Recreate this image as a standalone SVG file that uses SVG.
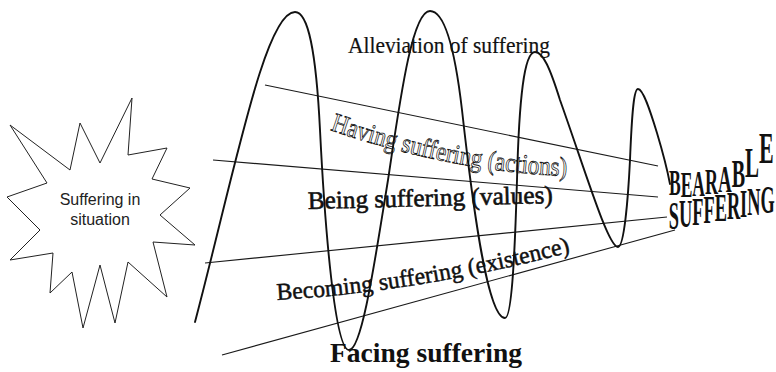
<svg xmlns="http://www.w3.org/2000/svg" width="776" height="372" viewBox="0 0 776 372">
<style>
.ray{stroke:#1a1a1a;stroke-width:1.1;fill:none}
.wave{stroke:#111;stroke-width:1.9;fill:none;stroke-linecap:round;stroke-linejoin:round}
.star{stroke:#222;stroke-width:1;fill:#fff}
.serif{font-family:"Liberation Serif","Times New Roman",serif;fill:#111}
.sans{font-family:"Liberation Sans",Arial,sans-serif;fill:#222}
</style>
<defs>
<path id="havingPath" d="M330,130 Q460,174 574,176"/>
<path id="becomingPath" d="M277,300 Q420,292 575,251"/>
</defs>
<rect width="776" height="372" fill="#fff"/>
<g id="connectors">
<line class="ray" x1="265" y1="85" x2="658" y2="166"/>
<line class="ray" x1="213" y1="160" x2="658" y2="197"/>
<line class="ray" x1="205" y1="263" x2="667" y2="217"/>
<line class="ray" x1="222" y1="355" x2="675" y2="230"/>
<path class="wave" d="M195,322 C235,170 265,12 295,12 C308,12 316,50 320,130 C325,230 335,350 349,350 C362,350 375,260 388,180 C400,100 412,11 430,11 C445,11 455,50 462,110 C472,200 487,318 505,318 C512,318 515,250 517,180 C519,100 524,52 535,52 C543,52 550,68 560,100 C585,170 608,247 618,247 C624,247 628,200 630,160 C632,110 634,89 638,89 C643,89 650,110 657,133 C663,153 667,168 670,184"/>
</g>
<g id="situation">
<polygon class="star" points="132,98 128,155 167,148 152,179 190,188 160,215 195,245 153,242 167,297 128,262 115,323 100,265 83,328 72,272 50,293 53,253 10,260 40,230 7,197 47,183 10,125 70,170 80,123 100,163"/>
<text class="sans" font-size="16" text-anchor="middle"><tspan x="100" y="205">Suffering in</tspan><tspan x="100" y="225">situation</tspan></text>
</g>
<g id="alleviation">
<text class="serif" x="348" y="53" font-size="24" textLength="202" lengthAdjust="spacingAndGlyphs" style="stroke:#111;stroke-width:0.2">Alleviation of suffering</text>
</g>
<g id="having">
<text class="serif" font-size="27" style="fill:none;stroke:#111;stroke-width:0.8"><textPath href="#havingPath" textLength="242" lengthAdjust="spacingAndGlyphs">Having suffering (actions)</textPath></text>
</g>
<g id="being">
<text class="serif" x="308" y="209" font-size="25" textLength="245" lengthAdjust="spacingAndGlyphs" transform="rotate(-1.4 308 209)" style="stroke:#111;stroke-width:0.6">Being suffering (values)</text>
</g>
<g id="becoming">
<text class="serif" font-size="24" style="stroke:#111;stroke-width:0.5"><textPath href="#becomingPath" textLength="298" lengthAdjust="spacingAndGlyphs">Becoming suffering (existence)</textPath></text>
</g>
<g id="facing">
<text class="serif" x="330" y="362" font-size="28" font-weight="bold" textLength="192" lengthAdjust="spacingAndGlyphs">Facing suffering</text>
</g>
<g id="bearable">
<text class="serif" font-weight="bold" transform="scale(0.5 1)" x="1338"><tspan y="195" font-size="35">B</tspan><tspan y="197" font-size="35">E</tspan><tspan y="196" font-size="35">A</tspan><tspan y="194" font-size="36">R</tspan><tspan y="192" font-size="38">A</tspan><tspan y="187" font-size="40">B</tspan><tspan y="177" font-size="42">L</tspan><tspan y="163" font-size="44">E</tspan></text>
<text class="serif" font-size="39" font-weight="bold" transform="scale(0.47 1)" x="1423" y="229 227 225 223 221 219 217 215 213">SUFFERING</text>
</g>
</svg>
